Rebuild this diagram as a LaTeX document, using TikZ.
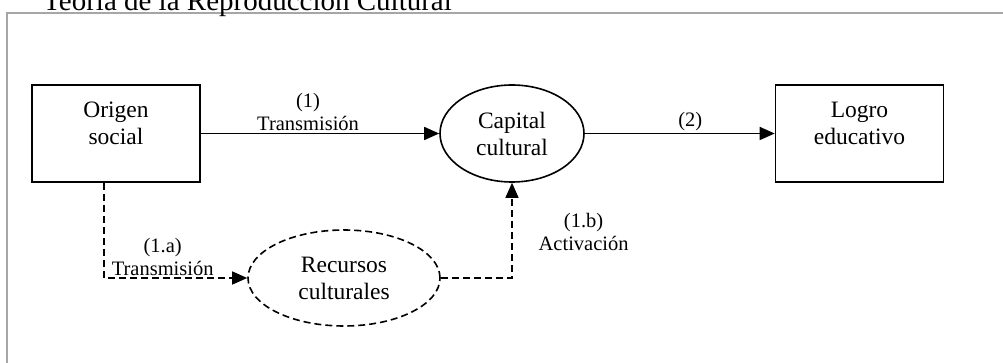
\documentclass[tikz,border=0pt]{standalone}
\usepackage{fontspec}
\setmainfont{Liberation Serif}
\usetikzlibrary{arrows.meta, shapes.geometric}

\begin{document}
\begin{tikzpicture}[x=1pt, y=-1pt,
        caja/.style={rectangle, draw=black, line width=1.6pt, minimum width=168pt, minimum height=97pt,
            inner sep=0pt, align=center, font=\fontsize{23.5}{27}\selectfont, text depth=20pt},
        elipse/.style={ellipse, draw=black, line width=1.6pt, inner sep=0pt, align=center,
            font=\fontsize{23.5}{27}\selectfont},
        etiqueta/.style={align=center, font=\fontsize{20.5}{23}\selectfont, inner sep=2pt},
        flecha/.style={line width=1.6pt, -{Triangle[length=15pt, width=13pt]}},
        discontinua/.style={line width=1.3pt, dash pattern=on 7pt off 4pt}]
    \useasboundingbox (0,0) rectangle (1003,363);

    % marco y titulo
    \draw[draw={rgb,255:red,166;green,166;blue,166}, line width=1.6pt] (7,13) rectangle (1012,372);
    \node[anchor=base west, inner sep=0pt, font=\fontsize{29}{33}\selectfont] (titulo) at (43,11) {Teoría de la Reproducción Cultural};

    \node[caja] (origen) at (116,133.5) {Origen\\social};
    \node[elipse, minimum width=144pt, minimum height=97pt] (capital) at (512,133.5) {Capital\\cultural};
    \node[caja] (logro) at (859.5,133.5) {Logro\\educativo};
    \node[elipse, discontinua, line width=1.6pt, minimum width=192pt, minimum height=96pt] (recursos) at (344,278) {Recursos\\culturales};

    \draw[flecha] (origen) -- node[etiqueta, above, pos=0.45] {(1)\\Transmisión} (capital);
    \draw[flecha] (capital) -- node[etiqueta, above, pos=0.555] {(2)} (logro);
    \draw[flecha, discontinua] ([xshift=-12pt]origen.south) |- node[etiqueta, above, pos=0.705] {(1.a)\\Transmisión} (recursos);
    \draw[flecha, discontinua] (recursos) -| node[etiqueta, right=24pt, pos=0.74] {(1.b)\\Activación} (capital);
\end{tikzpicture}
\end{document}
